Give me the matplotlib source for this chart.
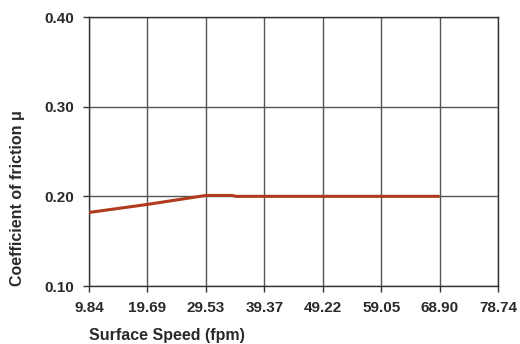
import matplotlib
matplotlib.use("Agg")
import matplotlib.pyplot as plt

# data
speed = [9.84, 19.69, 29.53, 33.9, 34.6, 68.90]
mu = [0.182, 0.191, 0.201, 0.201, 0.200, 0.200]
x_ticks = [9.84, 19.69, 29.53, 39.37, 49.22, 59.05, 68.90, 78.74]
x_tick_labels = ["9.84", "19.69", "29.53", "39.37", "49.22", "59.05", "68.90", "78.74"]
y_ticks = [0.10, 0.20, 0.30, 0.40]
y_tick_labels = ["0.10", "0.20", "0.30", "0.40"]

plt.rcParams["font.family"] = ["Liberation Sans", "DejaVu Sans"]

fig = plt.figure(figsize=(5.2, 3.44), dpi=100)
ax = fig.add_axes([89 / 520, 1 - 286 / 344, (498 - 89) / 520, (286 - 17) / 344])

ax.plot(speed, mu, color="#b03a1c", lw=2.2, solid_capstyle="butt", zorder=3)

ax.set_xlim(x_ticks[0], x_ticks[-1])
ax.set_ylim(y_ticks[0], y_ticks[-1])
ax.set_xticks(x_ticks)
ax.set_xticklabels(x_tick_labels)
ax.set_yticks(y_ticks)
ax.set_yticklabels(y_tick_labels)
ax.grid(True, color="#555555", lw=1.0)
ax.set_axisbelow(True)

for s in ax.spines.values():
    s.set_color("#333333")
    s.set_linewidth(1.0)

ax.tick_params(direction="out", length=4.5, width=1, color="#333333",
               labelsize=11, labelcolor="#2a2a2a")
ax.tick_params(axis="x", pad=6.5)
ax.tick_params(axis="y", pad=6)
for lab in ax.get_xticklabels() + ax.get_yticklabels():
    lab.set_fontweight("bold")

ax.set_xlabel("Surface Speed (fpm)", loc="left", fontsize=11.5,
              fontweight="bold", color="#2a2a2a", labelpad=9.5)
ax.set_ylabel("Coefficient of friction μ", loc="bottom", fontsize=11.5,
              fontweight="bold", color="#2a2a2a", labelpad=14)

fig.savefig("out.png", dpi=100)
